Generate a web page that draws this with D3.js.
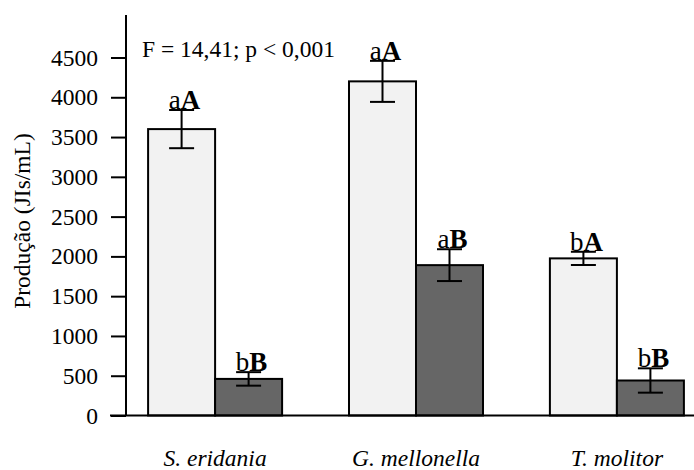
<!DOCTYPE html>
<html>
<head>
<meta charset="utf-8">
<script src="https://cdn.jsdelivr.net/npm/d3@7"></script>
<style>
  html, body { margin: 0; padding: 0; background: #fff; }
  svg text { font-family: "Liberation Serif", "Times New Roman", Times, serif !important; }
</style>
</head>
<body>
<svg id="chart" width="694" height="470"></svg>
<script>
const categories = ["S. eridania", "G. mellonella", "T. molitor"];
const seriesKeys = ["A", "B"];
const meansA = [3600, 4200, 1975];
const errA = [240, 258, 83];
const meansB = [460, 1890, 440];
const errB = [85, 200, 153];
const lettersA = [["a", "A"], ["a", "A"], ["b", "A"]];
const lettersB = [["b", "B"], ["a", "B"], ["b", "B"]];
const yTicks = [0, 500, 1000, 1500, 2000, 2500, 3000, 3500, 4000, 4500];
const statText = "F = 14,41; p < 0,001";
const yTitle = "Produção (JIs/mL)";

const fills = { A: "#f2f2f2", B: "#666666" };

const svg = d3.select("#chart");
const mLeft = 126, mBottom = 415.5, mTop = 15;

const y = d3.scaleLinear().domain([0, 4500]).range([mBottom, 57.5]);
const x0 = d3.scaleBand().domain(categories).range([126, 706]).paddingInner(0.333).paddingOuter(0.11);
const x1 = d3.scaleBand().domain(seriesKeys).range([0, x0.bandwidth()]);

const data = categories.map((c, i) => ({
  cat: c,
  bars: [
    { key: "A", v: meansA[i], e: errA[i], l: lettersA[i] },
    { key: "B", v: meansB[i], e: errB[i], l: lettersB[i] }
  ]
}));

// bars
const g = svg.append("g");
const groups = g.selectAll("g.grp").data(data).join("g")
  .attr("transform", d => `translate(${x0(d.cat)},0)`);

groups.selectAll("rect").data(d => d.bars).join("rect")
  .attr("x", d => x1(d.key))
  .attr("y", d => y(d.v))
  .attr("width", x1.bandwidth())
  .attr("height", d => y(0) - y(d.v))
  .attr("fill", d => fills[d.key])
  .attr("stroke", "#000")
  .attr("stroke-width", 2);

// error bars
const capW = 12.5;
groups.selectAll("g.err").data(d => d.bars).join("g").attr("class", "err").each(function(d) {
  const cx = x1(d.key) + x1.bandwidth() / 2;
  const s = d3.select(this);
  s.append("line").attr("x1", cx).attr("x2", cx).attr("y1", y(d.v + d.e)).attr("y2", y(d.v - d.e))
    .attr("stroke", "#000").attr("stroke-width", 2);
  [d.v + d.e, d.v - d.e].forEach(v => {
    s.append("line").attr("x1", cx - capW).attr("x2", cx + capW).attr("y1", y(v)).attr("y2", y(v))
      .attr("stroke", "#000").attr("stroke-width", 2);
  });
  const t = s.append("text").attr("x", cx + 3).attr("y", y(d.v + d.e) - 1)
    .attr("text-anchor", "middle").style("font-size", "27px").attr("fill", "#000");
  t.append("tspan").text(d.l[0]);
  t.append("tspan").style("font-weight", "bold").text(d.l[1]);
});

// y axis
const yAxis = d3.axisLeft(y).tickValues(yTicks).tickFormat(d3.format("d"))
  .tickSize(15).tickPadding(13).tickSizeOuter(0);
const ya = svg.append("g").attr("transform", `translate(${mLeft},0)`).call(yAxis);
ya.attr("font-family", null).attr("font-size", null);
ya.select(".domain").remove();
ya.selectAll(".tick line").attr("stroke", "#000").attr("stroke-width", 2);
ya.selectAll(".tick text").attr("fill", "#000").style("font-size", "23.5px");
svg.append("line").attr("x1", mLeft).attr("x2", mLeft).attr("y1", mTop).attr("y2", mBottom)
  .attr("stroke", "#000").attr("stroke-width", 2);

// x axis baseline
svg.append("line").attr("x1", 110).attr("x2", 694).attr("y1", mBottom).attr("y2", mBottom)
  .attr("stroke", "#000").attr("stroke-width", 2);

// x labels
svg.selectAll("text.xl").data(categories).join("text").attr("class", "xl")
  .attr("x", d => x0(d) + x0.bandwidth() / 2)
  .attr("y", 466)
  .attr("text-anchor", "middle")
  .style("font-size", "23.5px")
  .style("font-style", "italic")
  .text(d => d);

// stat text
svg.append("text").attr("x", 142).attr("y", 57).style("font-size", "23.5px").text(statText);

// y title
svg.append("text").attr("transform", "translate(30,221) rotate(-90)")
  .attr("text-anchor", "middle").style("font-size", "23.5px").text(yTitle);
</script>
</body>
</html>
